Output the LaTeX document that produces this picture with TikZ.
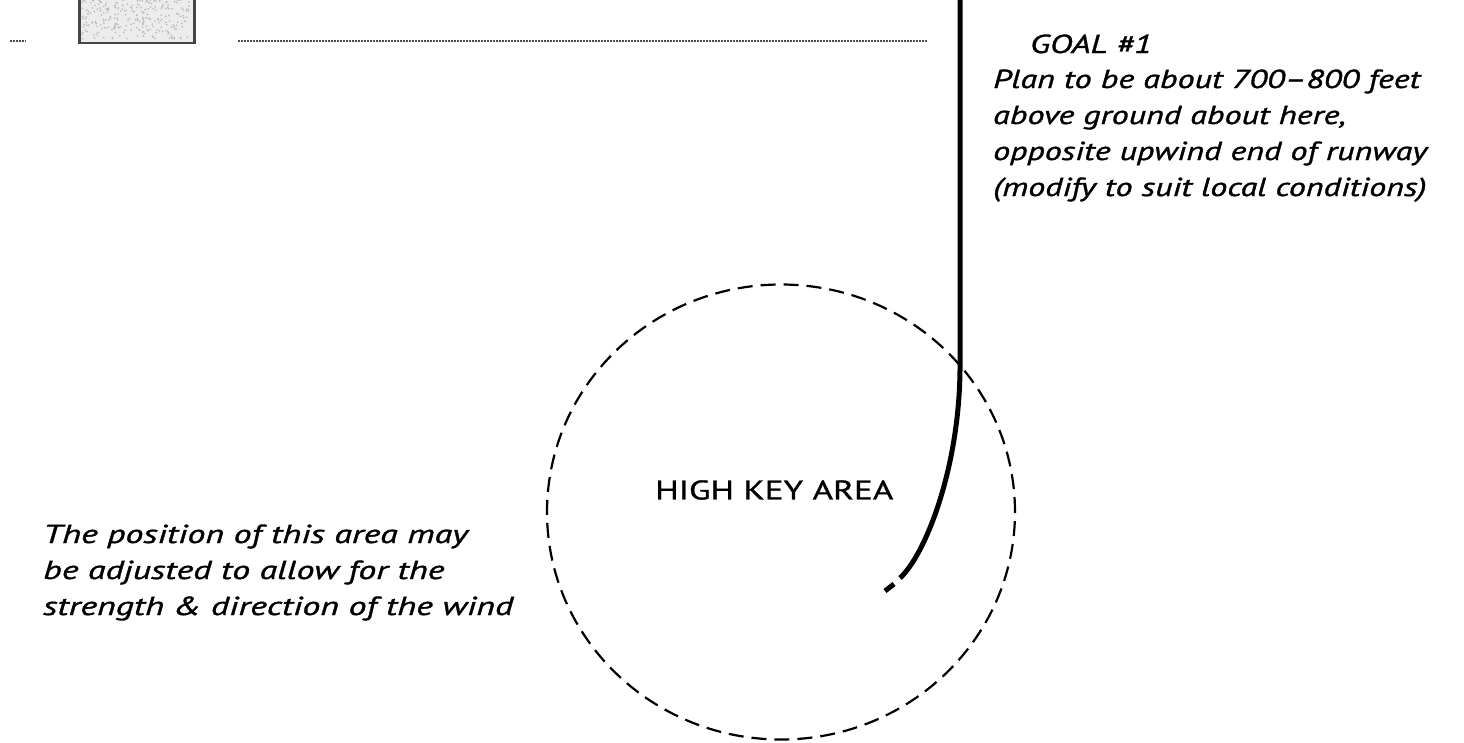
\documentclass[tikz,border=0pt]{standalone}
\usepackage{fontspec}
\usetikzlibrary{shapes.geometric}
\setmainfont{PT Sans}
\newfontfamily\handit[FakeStretch=1.31,FakeBold=1.3]{PT Sans Italic}
\newfontfamily\handitw[FakeStretch=1.38,FakeBold=1.3]{PT Sans Italic}
\newfontfamily\handup[FakeStretch=1.3,FakeBold=1]{PT Sans}
\begin{document}
\begin{tikzpicture}[x=1pt,y=-1pt,
  note/.style={inner sep=0pt, anchor=base west, font=\handit\fontsize{26}{30}\selectfont},
  notew/.style={inner sep=0pt, anchor=base west, font=\handitw\fontsize{26}{30}\selectfont},
  keylabel/.style={inner sep=0pt, font=\handup\fontsize{27}{30}\selectfont},
  keyarea/.style={draw=black, line width=2.2pt, dash pattern=on 15pt off 8pt},
  track/.style={draw=black, line width=5pt},
  dotline/.style={draw=gray!60!black, line width=1.5pt, dash pattern=on 1.5pt off 1.5pt}]
\useasboundingbox (0,0) rectangle (1464,742);
% building at top left
\node[draw=gray!55!black, line width=2.5pt, fill=gray!15, minimum width=115pt, minimum height=50pt, inner sep=0pt] (bldg) at (137,18) {};
\pgfmathsetseed{11}
\foreach \i in {1,...,260}{
  \pgfmathsetmacro{\px}{82+rnd*108}
  \pgfmathsetmacro{\py}{0+rnd*39}
  \fill[gray!55] (\px,\py) circle[radius=0.9];
}
% dotted ground line
\coordinate (d0) at (10,41);
\coordinate (d1) at (26,41);
\coordinate (g0) at (238,41);
\coordinate (g1) at (928,41);
\draw[dotline] (d0) -- (d1);
\draw[dotline] (g0) -- (g1);
% high key area
\node[keyarea, ellipse, minimum width=468pt, minimum height=455pt, inner sep=0pt] (key) at (781,512) {};
% flight track
\coordinate (t0) at (960,-5);
\coordinate (t1) at (960,370);
\coordinate (t2) at (900,578);
\coordinate (t3) at (894,584);
\coordinate (t4) at (885,591);
\draw[track] (t0) -- (t1) .. controls (959,470) and (925,555) .. (t2);
\draw[track] (t3) -- (t4);
% labels
\node[keylabel, anchor=west] (hk) at (655,490) {HIGH KEY AREA};
\node[note] (goal0) at (1030,53) {GOAL \#1};
\node[note] (goal1) at (993,88) {Plan to be about 700–800 feet};
\node[note] (goal2) at (993,124) {above ground about here,};
\node[note] (goal3) at (993,160) {opposite upwind end of runway};
\node[note] (goal4) at (993,196) {(modify to suit local conditions)};
\node[notew] (pos1) at (43,543) {The position of this area may};
\node[notew] (pos2) at (43,579) {be adjusted to allow for the};
\node[notew] (pos3) at (43,615) {strength \& direction of the wind};
\end{tikzpicture}
\end{document}
